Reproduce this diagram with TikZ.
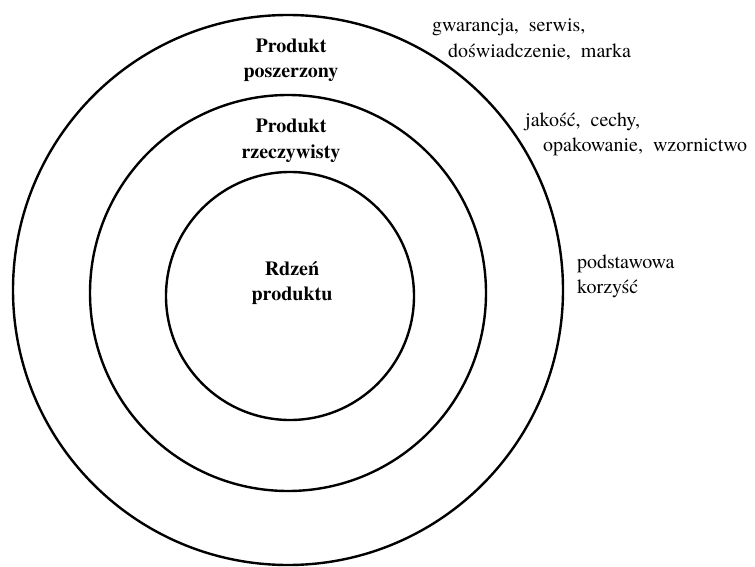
\documentclass[tikz,border=0pt]{standalone}
\usepackage{fontspec}
\setmainfont{texgyretermes}[Extension=.otf,UprightFont=*-regular,BoldFont=*-bold,ItalicFont=*-italic,BoldItalicFont=*-bolditalic]
\begin{document}
\begin{tikzpicture}[x=1pt,y=-1pt,
  ring/.style={draw=black,line width=2.4pt},
  lbl/.style={inner sep=0pt,font=\fontsize{20}{25}\selectfont},
  bl/.style={inner sep=0pt,font=\fontsize{20}{25}\selectfont\bfseries}]
\useasboundingbox[fill=white] (0,0) rectangle (755,567);
\draw[ring] (288,290) circle [radius=275];
\draw[ring] (288,293) circle [radius=198];
\draw[ring] (290,296) circle [radius=124];
\node[bl,anchor=base] (p1a) at (291,53) {Produkt};
\node[bl,anchor=base] (p1b) at (291,78) {poszerzony};
\node[bl,anchor=base] (p2a) at (291,133) {Produkt};
\node[bl,anchor=base] (p2b) at (291,159) {rzeczywisty};
\node[bl,anchor=base] (p3a) at (292,275) {Rdzeń};
\node[bl,anchor=base] (p3b) at (292,300) {produktu};
\node[lbl,anchor=base west] (t1a) at (432,32) {gwarancja, \ serwis,};
\node[lbl,anchor=base west] (t1b) at (448,58) {doświadczenie, \ marka};
\node[lbl,anchor=base west] (t2a) at (525,127) {jakość, \ cechy,};
\node[lbl,anchor=base west] (t2b) at (543,152) {opakowanie, \ wzornictwo};
\node[lbl,anchor=base west] (t3a) at (577,268) {podstawowa};
\node[lbl,anchor=base west] (t3b) at (577,293) {korzyść};
\end{tikzpicture}
\end{document}
